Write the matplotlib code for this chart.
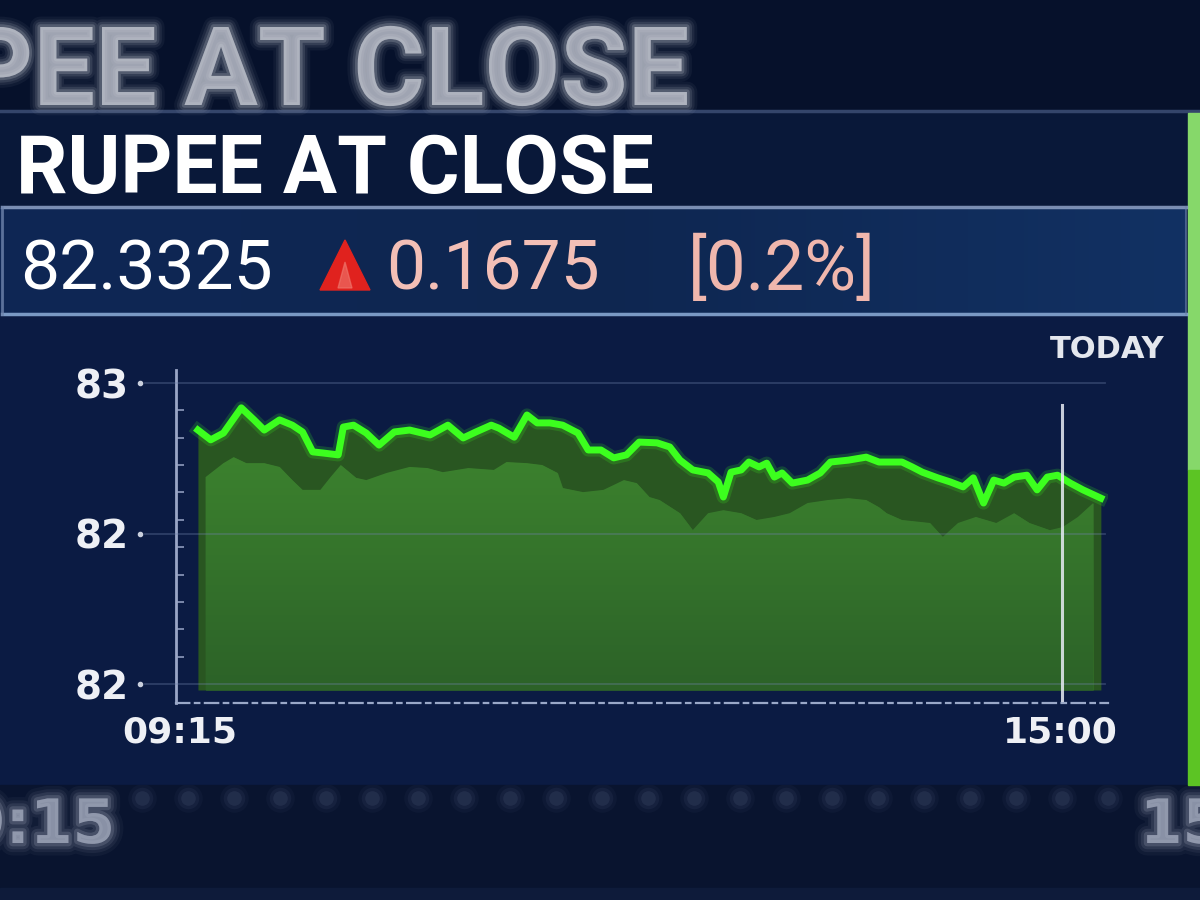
import numpy as np
import matplotlib
matplotlib.use("Agg")
import matplotlib.pyplot as plt
from matplotlib.patches import Rectangle, Polygon
from matplotlib.colors import LinearSegmentedColormap
from matplotlib.transforms import blended_transform_factory
from matplotlib.ticker import FixedLocator
import matplotlib.patheffects as pe

# ---------------- data ----------------
title = "RUPEE AT CLOSE"
last_price = "82.3325"
change = "0.1675"
change_pct = "[0.2%]"
period_label = "TODAY"

line_times = ["09:22", "09:27", "09:32", "09:39", "09:44", "09:48", "09:54", "09:59", "10:03", "10:07",
              "10:11", "10:17", "10:19", "10:23", "10:28", "10:33", "10:39", "10:45", "10:53", "11:00",
              "11:06", "11:11", "11:17", "11:20", "11:26", "11:31", "11:35", "11:40", "11:45", "11:51",
              "11:55", "12:00", "12:05", "12:10", "12:15", "12:22", "12:27", "12:31", "12:36", "12:42",
              "12:46", "12:48", "12:51", "12:55", "12:58", "13:02", "13:05", "13:08", "13:11", "13:15",
              "13:21", "13:26", "13:30", "13:37", "13:44", "13:49", "13:52", "13:58", "14:02", "14:06",
              "14:12", "14:17", "14:22", "14:26", "14:30", "14:34", "14:38", "14:42", "14:47", "14:51",
              "14:55", "14:59", "15:04", "15:09", "15:16"]
line_rates = [82.475, 82.449, 82.467, 82.534, 82.502, 82.475, 82.502, 82.488, 82.470, 82.417,
              82.414, 82.409, 82.483, 82.488, 82.467, 82.435, 82.470, 82.475, 82.462, 82.488,
              82.454, 82.470, 82.488, 82.480, 82.456, 82.515, 82.494, 82.494, 82.488, 82.467,
              82.422, 82.422, 82.401, 82.409, 82.443, 82.441, 82.430, 82.395, 82.369, 82.361,
              82.337, 82.297, 82.363, 82.369, 82.390, 82.377, 82.387, 82.350, 82.361, 82.334,
              82.342, 82.361, 82.390, 82.395, 82.403, 82.390, 82.390, 82.390, 82.377, 82.363,
              82.348, 82.337, 82.324, 82.348, 82.281, 82.342, 82.334, 82.350, 82.355, 82.316,
              82.350, 82.355, 82.334, 82.316, 82.294]

shadow_times = ["09:25", "09:32", "09:36", "09:41", "09:48", "09:54", "09:59", "10:03", "10:10", "10:14",
                "10:18", "10:24", "10:28", "10:36", "10:45", "10:52", "10:58", "11:08", "11:18", "11:23",
                "11:31", "11:37", "11:43", "11:45", "11:53", "12:01", "12:09", "12:14", "12:19", "12:23",
                "12:31", "12:36", "12:42", "12:48", "12:55", "13:01", "13:08", "13:14", "13:21", "13:29",
                "13:37", "13:44", "13:49", "13:52", "13:58", "14:09", "14:14", "14:20", "14:27", "14:35",
                "14:42", "14:48", "14:56", "15:01", "15:07", "15:13"]
shadow_rates = [82.350, 82.387, 82.403, 82.387, 82.387, 82.377, 82.342, 82.316, 82.316, 82.350,
                82.382, 82.348, 82.342, 82.361, 82.377, 82.374, 82.363, 82.374, 82.369, 82.390,
                82.387, 82.382, 82.361, 82.321, 82.310, 82.316, 82.342, 82.334, 82.297, 82.289,
                82.254, 82.209, 82.254, 82.262, 82.254, 82.236, 82.244, 82.254, 82.281, 82.289,
                82.294, 82.289, 82.270, 82.254, 82.236, 82.228, 82.191, 82.228, 82.244, 82.228,
                82.254, 82.228, 82.209, 82.217, 82.244, 82.281]

y_ticks = [81.8, 82.2, 82.6]
x_tick_times = ["09:15", "15:00"]
marker_time = "15:00"
fill_base = 81.784


def tmin(s):
    h, m = map(int, s.split(":"))
    return h * 60 + m - (9 * 60 + 15)


lt = np.array([tmin(s) for s in line_times], dtype=float)
lr = np.array(line_rates)
st = np.array([tmin(s) for s in shadow_times], dtype=float)
sr = np.array(shadow_rates)

# ---------------- figure / background ----------------
W, H = 1200, 900
fig = plt.figure(figsize=(12, 9), dpi=100)
fig.patch.set_facecolor("#0b1b43")
bg = fig.add_axes([0, 0, 1, 1], zorder=0)
bg.set_xlim(0, W)
bg.set_ylim(H, 0)
bg.axis("off")

# top blurred strip
top_strip = Rectangle((0, 0), W, 109, color="#06112b", zorder=0)
bg.add_patch(top_strip)
# main panel
bg.add_patch(Rectangle((0, 112), W, 673, color="#0b1b43", zorder=0))
bg.add_patch(Rectangle((0, 112), W, 95, color="#091839", zorder=0.5))
bg.plot([0, W], [110.5, 110.5], color="#34456b", lw=2.5, zorder=1)
# bottom blurred strip
bot_strip = Rectangle((0, 785), W, 115, color="#09142f", zorder=0)
bg.add_patch(bot_strip)
bg.add_patch(Rectangle((0, 888), W, 12, color="#0e1b3a", zorder=0.5))

# right green bar
bg.add_patch(Rectangle((1188, 113), 12, 357, color="#86d86a", zorder=2))
bg.add_patch(Rectangle((1188, 470), 12, 315, color="#5cc424", zorder=2))

# value box with horizontal gradient
box_grad = np.linspace(0, 1, 256).reshape(1, -1)
box_cmap = LinearSegmentedColormap.from_list("box", ["#0f2755", "#0e2650", "#123163"])
bg.imshow(box_grad, extent=[0, 1186, 313, 208], cmap=box_cmap, aspect="auto", zorder=1)
bg.set_xlim(0, W)
bg.set_ylim(H, 0)
bg.plot([2, 1186], [207, 207], color="#8fa3c8", lw=2.5, alpha=0.85, zorder=2)
bg.plot([2, 1186], [314, 314], color="#8fb0dc", lw=2.5, alpha=0.85, zorder=2)
bg.plot([2, 2], [207, 314], color="#6f84ad", lw=2, alpha=0.8, zorder=2)
bg.plot([1186, 1186], [207, 314], color="#6f84ad", lw=1.5, alpha=0.6, zorder=2)


def soft_text(x, y, s, size, color, clip, spread, **kw):
    t = bg.text(x, y, s, fontsize=size, color=color, alpha=0.55, zorder=1, **kw)
    t.set_path_effects([
        pe.Stroke(linewidth=spread * 3, foreground=color, alpha=0.05),
        pe.Stroke(linewidth=spread * 2.2, foreground=color, alpha=0.08),
        pe.Stroke(linewidth=spread * 1.5, foreground=color, alpha=0.12),
        pe.Stroke(linewidth=spread * 0.8, foreground=color, alpha=0.2),
        pe.Normal(),
    ])
    t.set_clip_path(clip)
    return t


# blurred top title
soft_text(690, 105, title, 79, "#d3d6df", top_strip, 5, ha="right", va="baseline",
          family="Roboto", fontweight="bold")
# blurred bottom labels
soft_text(115, 843, x_tick_times[0], 44, "#aeb5c8", bot_strip, 6, ha="right", va="baseline",
          family="DejaVu Sans", fontweight="bold")
soft_text(1140, 843, x_tick_times[1], 44, "#aeb5c8", bot_strip, 6, ha="left", va="baseline",
          family="DejaVu Sans", fontweight="bold")
dots_x = np.arange(142, 1112, 46)
for s_, a_ in [(420, 0.05), (240, 0.08), (110, 0.12)]:
    sc = bg.scatter(dots_x, np.full(dots_x.shape, 798), s=s_, color="#7886a8", alpha=a_,
                    lw=0, zorder=1)
    sc.set_clip_path(bot_strip)

# header text
bg.text(16, 193, title, fontsize=58, color="white", family="Roboto", fontweight="bold",
        ha="left", va="baseline", zorder=3)
# value row
bg.text(20, 290, last_price, fontsize=50, color="white", family="Roboto",
        ha="left", va="baseline", zorder=3)
bg.add_patch(Polygon([(320, 290), (345, 240), (370, 290)], closed=True, color="#e0221e", zorder=3))
bg.add_patch(Polygon([(338, 288), (345, 262), (352, 288)], closed=True, color="#f07a70",
                     alpha=0.6, zorder=3))
bg.text(386, 290, change, fontsize=50, color="#f3bfb6", family="Roboto",
        ha="left", va="baseline", zorder=3)
bg.text(688, 290, change_pct, fontsize=51, color="#f0b7ad", family="Roboto",
        ha="left", va="baseline", zorder=3)
# period label
bg.text(1165, 358, period_label, fontsize=22, color="#e4e7ee", family="DejaVu Sans",
        fontweight="bold", ha="right", va="baseline", zorder=3)

# ---------------- chart axes ----------------
ax = fig.add_axes([176 / W, 1 - 703 / H, 932 / W, 333 / H], zorder=2)
ax.patch.set_alpha(0)
xmin, xmax = -1.6, 363.8
ymin, ymax = 81.7495, 82.6346

DARK = "#295621"
ax.fill_between(lt, lr, fill_base, color=DARK, lw=0, zorder=2)
mid_poly = ax.fill_between(st, sr, fill_base, color="#357529", lw=0, zorder=3)
grad = np.linspace(0, 1, 256).reshape(-1, 1)
gcmap = LinearSegmentedColormap.from_list("g", ["#2c6228", "#3c822e"])
im = ax.imshow(grad, extent=[xmin, xmax, fill_base, 82.42], origin="lower", aspect="auto",
               cmap=gcmap, zorder=3.5)
im.set_clip_path(mid_poly.get_paths()[0], transform=ax.transData)

# gridlines (extend left past the axis line)
for yv in y_ticks:
    ax.axhline(yv, xmin=-0.033, xmax=0.997, color="#6f82aa", lw=1.3, alpha=0.35,
               clip_on=False, zorder=4)
trans = blended_transform_factory(ax.transAxes, ax.transData)
ax.plot(np.full(len(y_ticks), -0.039), y_ticks, "o", ms=3, color="#c9cfdd", transform=trans,
        clip_on=False, zorder=5)

# the line with glow
ax.plot(lt, lr, color="#3cff1e", lw=9.5, alpha=0.18, zorder=5, solid_joinstyle="round")
ax.plot(lt, lr, color="#3cff1e", lw=5, zorder=6, solid_joinstyle="round")

# vertical marker
ax.axvline(tmin(marker_time) + 0.7, ymin=0.009, ymax=0.895, color="#e8ecf4", lw=2.2,
           alpha=0.85, zorder=7)

ax.set_xlim(xmin, xmax)
ax.set_ylim(ymin, ymax)
ax.set_xticks([tmin(s) for s in x_tick_times])
ax.set_xticklabels(x_tick_times)
ax.set_yticks(y_ticks)
ax.set_yticklabels(["{:.0f}".format(v) for v in y_ticks])
ax.yaxis.set_minor_locator(FixedLocator(np.linspace(y_ticks[0], y_ticks[-1], 12)))
ax.tick_params(axis="both", which="major", length=0, colors="#eef0f5")
ax.tick_params(axis="y", which="major", pad=34)
ax.tick_params(axis="x", which="major", pad=9)
ax.tick_params(axis="y", which="minor", direction="in", length=6, width=1.2, color="#8f9bbd")
for lab in ax.get_yticklabels():
    lab.set_fontsize(28)
    lab.set_fontweight("bold")
    lab.set_family("DejaVu Sans")
for lab in ax.get_xticklabels():
    lab.set_fontsize(26)
    lab.set_fontweight("bold")
    lab.set_family("DejaVu Sans")

for side in ["top", "right"]:
    ax.spines[side].set_visible(False)
ax.spines["left"].set_color("#9aa6c6")
ax.spines["left"].set_linewidth(2)
ax.spines["bottom"].set_color("#9aa8c8")
ax.spines["bottom"].set_linewidth(1.6)
ax.spines["bottom"].set_linestyle((0, (6, 2.5, 2, 2.5)))

fig.savefig("out.png", dpi=100, facecolor=fig.get_facecolor())
